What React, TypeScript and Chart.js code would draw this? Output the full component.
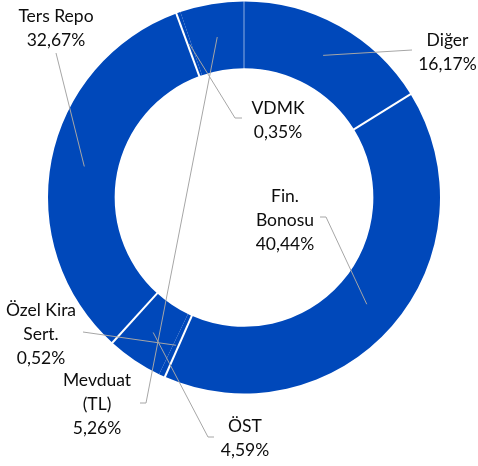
import React, { useEffect, useRef } from "react";
import { Chart, registerables } from "chart.js";

Chart.register(...registerables);

// ---- data ----
const categories = ["Diğer", "Fin. Bonosu", "Özel Kira Sert.", "ÖST", "Ters Repo", "VDMK", "Mevduat (TL)"];
const values = [16.17, 40.44, 0.52, 4.59, 32.67, 0.35, 5.26];
const labelLines = [["Diğer"], ["Fin.", "Bonosu"], ["Özel Kira", "Sert."], ["ÖST"], ["Ters Repo"], ["VDMK"], ["Mevduat", "(TL)"]];

// ---- styling / layout (offsets relative to doughnut centre) ----
const sliceColor = "#0048BA";
const separatorWidths = [2, 2, 0, 2, 2, 0, 1]; // white line after each slice
const labelLayout = [
  { x: 203.5, y: -151.5, anchor: [168, -147.5], elbow: null },
  { x: 41, y: 4.5, anchor: [76, 19.5], elbow: [82, 19.5] },
  { x: -203, y: 118.5, anchor: [-161, 134.5], elbow: null },
  { x: 1, y: 234.5, anchor: [-30, 239.5], elbow: [-36, 239.5] },
  { x: -188, y: -175.5, anchor: [-188, -144.5], elbow: null },
  { x: 34, y: -83.5, anchor: [-2, -79.5], elbow: [-9, -79.5] },
  { x: -147, y: 188.5, anchor: [-104, 205.5], elbow: [-98, 205.5] },
];
const lineHeight = 23.8;
const fontSpec = "17.5px Lato";

const fmt = (v: number) => v.toFixed(2).replace(".", ",") + "%";

const overlayPlugin = {
  id: "overlay",
  afterDatasetsDraw(chart: any) {
    const ctx = chart.ctx;
    const meta = chart.getDatasetMeta(0);
    // separators
    meta.data.forEach((el: any, i: number) => {
      const w = separatorWidths[i];
      if (!w) return;
      const a = el.endAngle;
      ctx.save();
      ctx.strokeStyle = w < 1.5 ? "rgba(255,255,255,0.55)" : "#ffffff";
      ctx.lineWidth = w;
      ctx.beginPath();
      ctx.moveTo(el.x + Math.cos(a) * (el.innerRadius - 1), el.y + Math.sin(a) * (el.innerRadius - 1));
      ctx.lineTo(el.x + Math.cos(a) * (el.outerRadius + 1), el.y + Math.sin(a) * (el.outerRadius + 1));
      ctx.stroke();
      ctx.restore();
    });
    // leaders + labels
    meta.data.forEach((el: any, i: number) => {
      const L = labelLayout[i];
      const cx = el.x;
      const cy = el.y;
      const mid = (el.startAngle + el.endAngle) / 2;
      const r = (el.innerRadius + el.outerRadius) / 2;
      const px = cx + Math.cos(mid) * r;
      const py = cy + Math.sin(mid) * r;
      ctx.save();
      ctx.strokeStyle = "#A6A6A6";
      ctx.lineWidth = 1;
      ctx.beginPath();
      ctx.moveTo(cx + L.anchor[0], cy + L.anchor[1]);
      if (L.elbow) ctx.lineTo(cx + L.elbow[0], cy + L.elbow[1]);
      ctx.lineTo(px, py);
      ctx.stroke();
      ctx.restore();

      const lines = [...labelLines[i], fmt(values[i])];
      ctx.save();
      ctx.fillStyle = "#0d0d0d";
      ctx.font = fontSpec;
      ctx.textAlign = "center";
      ctx.textBaseline = "alphabetic";
      lines.forEach((t, k) => {
        ctx.fillText(t, cx + L.x, cy + L.y + k * lineHeight);
      });
      ctx.restore();
    });
  },
};

export default function App() {
  const ref = useRef<HTMLCanvasElement | null>(null);
  useEffect(() => {
    document.body.style.margin = "0";
    if (!ref.current) return;
    const chart = new Chart(ref.current, {
      type: "doughnut",
      data: {
        labels: categories,
        datasets: [
          {
            data: values,
            backgroundColor: sliceColor,
            borderWidth: 0,
            hoverBorderWidth: 0,
            hoverOffset: 0,
          },
        ],
      },
      options: {
        responsive: false,
        animation: false,
        cutout: "66%",
        layout: { padding: { left: 48, right: 38, top: 1.5, bottom: 72.5 } },
        plugins: { legend: { display: false }, tooltip: { enabled: false } },
        events: [],
      },
      plugins: [overlayPlugin],
    });
    return () => chart.destroy();
  }, []);
  return (
    <div style={{ width: 478, height: 466, background: "#fff" }}>
      <canvas ref={ref} width={478} height={466} style={{ display: "block" }} />
    </div>
  );
}
